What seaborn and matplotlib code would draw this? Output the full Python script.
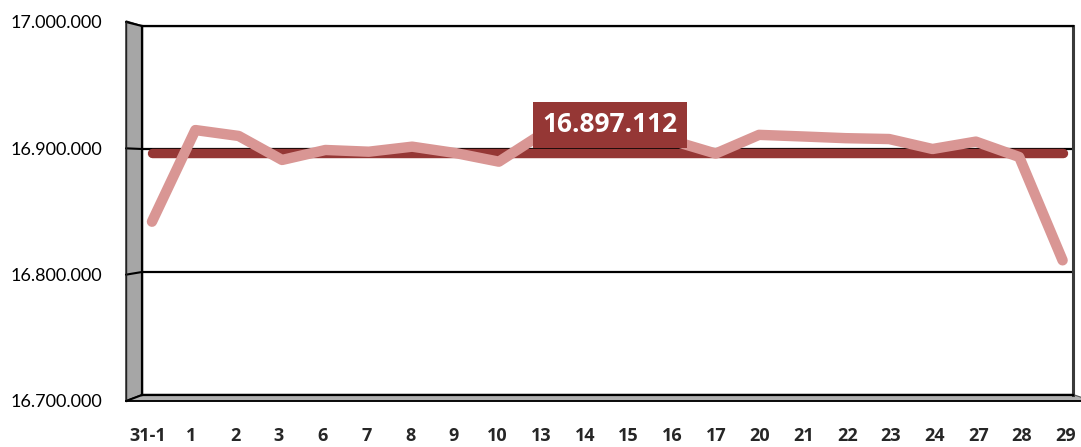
import matplotlib
matplotlib.use('Agg')
import matplotlib.pyplot as plt
from matplotlib import font_manager
from matplotlib.patches import Polygon
from matplotlib.lines import Line2D
from matplotlib.ticker import FuncFormatter, FixedLocator
import seaborn as sns
import pandas as pd

# data
days = ['31-1', '1', '2', '3', '6', '7', '8', '9', '10', '13', '14',
        '15', '16', '17', '20', '21', '22', '23', '24', '27', '28', '29']
values = [16840900, 16915400, 16910600, 16891100, 16899200, 16897800,
          16901900, 16896700, 16889700, 16912400, 16911500, 16909500,
          16906800, 16896300, 16911500, 16910200, 16908800, 16908100,
          16900000, 16906000, 16893500, 16809500]
avg_value = 16897112
y_ticks = [16700000, 16800000, 16900000, 17000000]

W, H = 1081, 447
PINK = '#D99694'
DARK = '#953735'


def fig_box(x0, y0, x1, y1):
    # pixel box (origin top-left) -> figure fraction rect
    return [x0 / W, 1 - y1 / H, (x1 - x0) / W, (y1 - y0) / H]


def px(x, y):
    return (x / W, 1 - y / H)


def dots(v, pos=None):
    return f'{int(round(v)):,}'.replace(',', '.')


sns.set_style('white')
names = {f.name for f in font_manager.fontManager.ttflist}
plt.rcParams['font.family'] = ['Lato', 'DejaVu Sans']
if 'Liberation Sans Narrow' in names:
    xfont = dict(family=['Liberation Sans Narrow', 'DejaVu Sans'], weight='bold', size=15)
else:
    xfont = dict(family=['Open Sans', 'DejaVu Sans'], weight='bold', size=13)

df = pd.DataFrame({'pos': range(len(days)), 'day': days, 'value': values})
df['avg'] = avg_value

fig = plt.figure(figsize=(W / 100, H / 100), dpi=100)
fig.patch.set_facecolor('white')

# back wall of the (pseudo 3D) plot area
ax = fig.add_axes(fig_box(142, 26, 1073, 395))
ax.set_xlim(-0.23, 21.24)
ax.set_ylim(y_ticks[0], y_ticks[-1])
ax.set_yticks(y_ticks)
ax.set_xticks([])
ax.tick_params(axis='y', length=0, labelleft=False)
ax.yaxis.grid(True, color='black', lw=1.6)
ax.set_axisbelow(True)
for s in ['top', 'left', 'bottom']:
    ax.spines[s].set_color('black')
    ax.spines[s].set_linewidth(1.6)
ax.spines['right'].set_color('#3a3a3a')
ax.spines['right'].set_linewidth(2.2)

# side wall + floor
ax.add_patch(Polygon([px(126, 21), px(142.5, 26), px(142.5, 394.5), px(126, 401)],
                     closed=True, facecolor='#A6A6A6', edgecolor='#222222', lw=1.0,
                     transform=fig.transFigure, clip_on=False, zorder=0.5))
ax.add_patch(Polygon([px(126, 401), px(142.5, 394.5), px(1073, 394.5), px(1092, 401)],
                     closed=True, facecolor='#B0B0B0', edgecolor='#555555', lw=0.8,
                     transform=fig.transFigure, clip_on=False, zorder=0.5))

# average line and daily series
sns.lineplot(data=df, x='pos', y='avg', color=DARK, lw=6.8, ax=ax,
             solid_capstyle='round', zorder=3)
sns.lineplot(data=df, x='pos', y='value', color=PINK, lw=7.5, ax=ax,
             solid_capstyle='round', solid_joinstyle='round', zorder=4)
ax.set_xlabel('')
ax.set_ylabel('')

ax.text(10.56, 16919600, dots(avg_value), color='white', fontsize=19,
        fontweight='bold', family=['Open Sans', 'DejaVu Sans'],
        ha='center', va='center', zorder=6,
        bbox=dict(boxstyle='square,pad=0.36', facecolor=DARK, edgecolor='none'))

# front value axis (left of the side wall)
ax3 = fig.add_axes(fig_box(126, 22, 127, 401))
ax3.set_ylim(y_ticks[0], y_ticks[-1])
ax3.set_yticks(y_ticks)
ax3.yaxis.set_major_formatter(FuncFormatter(dots))
ax3.set_xticks([])
ax3.patch.set_alpha(0)
for s in ['top', 'right', 'bottom']:
    ax3.spines[s].set_visible(False)
ax3.spines['left'].set_color('#222222')
ax3.spines['left'].set_linewidth(1.0)
ax3.tick_params(axis='y', length=5, width=1.3, color='black', pad=12,
                labelsize=13, labelcolor='black')

# slanted lines across the side wall at each gridline
inv = fig.transFigure.inverted()
for v in y_ticks:
    p0 = inv.transform(ax3.transData.transform((0, v)))
    p1 = inv.transform(ax.transData.transform((ax.get_xlim()[0], v)))
    ax.add_line(Line2D([p0[0], p1[0]], [p0[1], p1[1]], color='black', lw=1.5,
                       transform=fig.transFigure, clip_on=False, zorder=5))

# front category axis
ax2 = fig.add_axes(fig_box(126, 399, 126 + 22 * 43.71, 401))
ax2.set_xlim(-0.5, len(days) - 0.5)
ax2.set_yticks([])
ax2.patch.set_alpha(0)
for s in ['top', 'right', 'left']:
    ax2.spines[s].set_visible(False)
ax2.spines['bottom'].set_color('black')
ax2.spines['bottom'].set_linewidth(1.3)
ax2.set_xticks(range(len(days)))
ax2.set_xticklabels(days, **xfont)
ax2.xaxis.set_minor_locator(FixedLocator([i - 0.5 for i in range(len(days) + 1)]))
ax2.tick_params(axis='x', which='major', length=0, pad=19)
ax2.tick_params(axis='x', which='minor', length=5, width=1.1, color='black')

fig.savefig('out.png', dpi=100)
